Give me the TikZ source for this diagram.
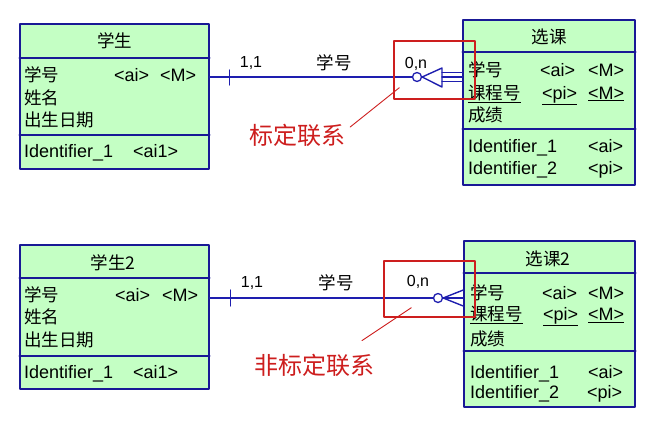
\documentclass[tikz,border=0pt]{standalone}
\usepackage{fontspec}
\setmainfont{Liberation Sans}
\newfontfamily\cjk{Noto Sans CJK SC}
\usepackage{tikz}
\usetikzlibrary{calc}
\definecolor{entgreen}{RGB}{196,255,196}
\definecolor{entblue}{RGB}{25,25,150}
\definecolor{relblue}{RGB}{30,30,175}
\definecolor{markred}{RGB}{205,30,30}
\tikzset{
  ent/.style={draw=entblue, fill=entgreen, line width=1.5pt, inner sep=0pt},
  divl/.style={draw=entblue, line width=1.5pt},
  ttl/.style={inner sep=0pt, font=\fontsize{17.5}{20}\selectfont\cjk},
  att/.style={anchor=base west, inner sep=0pt, font=\fontsize{18}{21}\selectfont},
  attc/.style={att, font=\fontsize{17.5}{20}\selectfont\cjk},
  lbl/.style={inner sep=0pt, font=\fontsize{16}{19}\selectfont},
  lblc/.style={inner sep=0pt, font=\fontsize{17.5}{20}\selectfont\cjk},
  rel/.style={draw=relblue, line width=1.4pt},
  circ/.style={circle, draw=relblue, fill=white, line width=1.3pt, minimum size=9pt, inner sep=0pt},
  redbox/.style={draw=markred, line width=1.3pt, inner sep=0pt},
  note/.style={inner sep=0pt, text=markred, font=\fontsize{24}{28}\selectfont\cjk},
  pointer/.style={draw=markred, line width=0.9pt},
  every picture/.style={line cap=round, line join=round}
}

\begin{document}
\begin{tikzpicture}[x=1pt,y=-1pt]
  \useasboundingbox (0,0) rectangle (655,424);
  % upper pair
  \node[ent, minimum width=189pt, minimum height=145pt] (stu) at (114.5,96.5) {};
  \draw[divl] (stu.west |- 0,58) -- (stu.east |- 0,58);
  \draw[divl] (stu.west |- 0,135) -- (stu.east |- 0,135);
  \node[ttl] (stuT) at (114.5,41) {学生};
  \node[attc] (stuA) at (24,81.5) {学号};
  \node[att] (stuAi) at (114,81.5) {<ai>};
  \node[att] (stuAm) at (160,81.5) {<M>};
  \node[attc] (stuB) at (24,104.5) {姓名};
  \node[attc] (stuC) at (24,126.5) {出生日期};
  \node[att] (stuI) at (24,157.5) {Identifier\_1};
  \node[att] (stuIa) at (133,157.5) {<ai1>};

  \node[ent, minimum width=172pt, minimum height=165pt] (sel) at (549,102.5) {};
  \draw[divl] (sel.west |- 0,52) -- (sel.east |- 0,52);
  \draw[divl] (sel.west |- 0,129) -- (sel.east |- 0,129);
  \node[ttl] (selT) at (549,37) {选课};
  \node[attc] (selA) at (468,76.5) {学号};
  \node[att] (selAi) at (540,76.5) {<ai>};
  \node[att] (selAm) at (588,76.5) {<M>};
  \node[attc] (selB) at (468,99) {\underline{课程号}};
  \node[att] (selBp) at (542,99) {\underline{<pi>}};
  \node[att] (selBm) at (588,99) {\underline{<M>}};
  \node[attc] (selC) at (468,121.5) {成绩};
  \node[att] (selI) at (468,152.5) {Identifier\_1};
  \node[att] (selIa) at (588,152.5) {<ai>};
  \node[att] (selJ) at (468,174) {Identifier\_2};
  \node[att] (selJp) at (588,174) {<pi>};

  % identifying relationship
  \node[circ] (o1) at (417,77) {};
  \draw[rel] (stu.east |- o1) -- (o1);
  \draw[rel] ($(stu.east |- o1)+(20,-7)$) -- ++(0,15);
  \draw[rel] (o1.east) -- (442,68) -- (442,87) -- cycle;
  \draw[rel] (442,72.5) -- (sel.west |- 0,72.5);
  \draw[rel] (442,77) -- (sel.west |- 0,77);
  \draw[rel] (442,81.5) -- (sel.west |- 0,81.5);
  \node[lbl] (c11) at (251,63) {1,1};
  \node[lblc] (fk1) at (334,63) {学号};
  \node[lbl] (c0n) at (416,64) {0,n};

  % lower pair
  \node[ent, minimum width=189pt, minimum height=144pt] (stu2) at (114.5,317) {};
  \draw[divl] (stu2.west |- 0,278) -- (stu2.east |- 0,278);
  \draw[divl] (stu2.west |- 0,356) -- (stu2.east |- 0,356);
  \node[ttl] (stu2T) at (113,263) {学生2};
  \node[attc] (stu2A) at (24,301.5) {学号};
  \node[att] (stu2Ai) at (115,301.5) {<ai>};
  \node[att] (stu2Am) at (162,301.5) {<M>};
  \node[attc] (stu2B) at (24,323.5) {姓名};
  \node[attc] (stu2C) at (24,346.5) {出生日期};
  \node[att] (stu2I) at (24,378) {Identifier\_1};
  \node[att] (stu2Ia) at (133,378) {<ai1>};

  \node[ent, minimum width=171pt, minimum height=166pt] (sel2) at (549.5,324) {};
  \draw[divl] (sel2.west |- 0,273) -- (sel2.east |- 0,273);
  \draw[divl] (sel2.west |- 0,351) -- (sel2.east |- 0,351);
  \node[ttl] (sel2T) at (548,259) {选课2};
  \node[attc] (sel2A) at (470,299.5) {学号};
  \node[att] (sel2Ai) at (542,299.5) {<ai>};
  \node[att] (sel2Am) at (588,299.5) {<M>};
  \node[attc] (sel2B) at (470,320.5) {\underline{课程号}};
  \node[att] (sel2Bp) at (543,320.5) {\underline{<pi>}};
  \node[att] (sel2Bm) at (588,320.5) {\underline{<M>}};
  \node[attc] (sel2C) at (470,345.5) {成绩};
  \node[att] (sel2I) at (470,378) {Identifier\_1};
  \node[att] (sel2Ia) at (588,378) {<ai>};
  \node[att] (sel2J) at (470,398) {Identifier\_2};
  \node[att] (sel2Jp) at (587,398) {<pi>};

  % non-identifying relationship
  \node[circ] (o2) at (438,298) {};
  \draw[rel] (stu2.east |- o2) -- (o2);
  \draw[rel] ($(stu2.east |- o2)+(21,-8)$) -- ++(0,16);
  \draw[rel] (o2.east) -- (sel2.west |- 0,290);
  \draw[rel] (o2.east) -- (sel2.west |- o2);
  \draw[rel] (o2.east) -- (sel2.west |- 0,306);
  \node[lbl] (c11b) at (252,283) {1,1};
  \node[lblc] (fk2) at (336,283) {学号};
  \node[lbl] (c0nb) at (418,282) {0,n};

  % red marks
  \node[redbox, minimum width=81pt, minimum height=58pt] (hl1) at (434.5,70) {};
  \node[redbox, minimum width=91pt, minimum height=56pt] (hl2) at (429.5,289) {};
  \node[note] (n1) at (297,135) {标定联系};
  \node[note] (n2) at (314,365) {非标定联系};
  \draw[pointer] ($(n1.east)+(5,-8)$) -- ($(hl1.south west)+(6,-12)$);
  \draw[pointer] ($(n2.north)+(48,-13)$) -- ($(hl2.south west)+(28,-10)$);
\end{tikzpicture}
\end{document}
